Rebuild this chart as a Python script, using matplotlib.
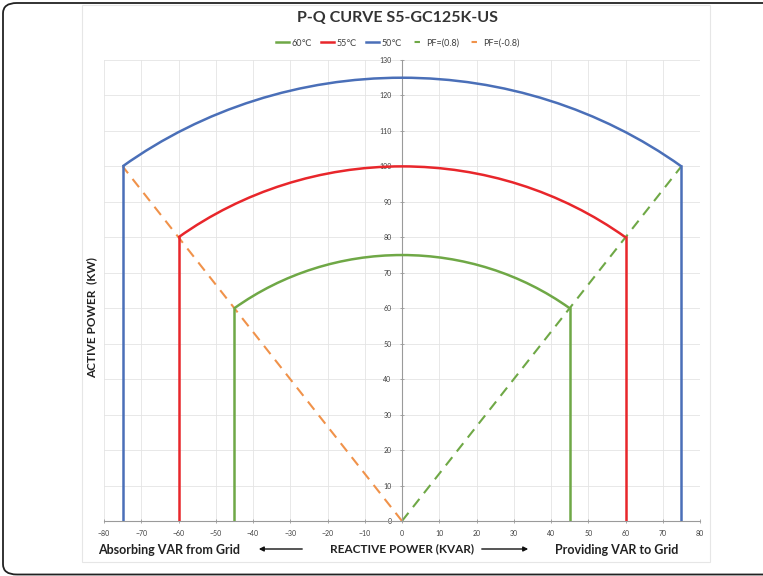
import numpy as np
import matplotlib
matplotlib.use("Agg")
import matplotlib.pyplot as plt
from matplotlib.patches import Arc, FancyBboxPatch, Rectangle, FancyArrowPatch
from matplotlib.lines import Line2D

# ---- data ----
ratings = ['60℃', '55℃', '50℃']
apparent_kva = [75, 100, 125]      # arc radius (kVA)
q_limit = [45, 60, 75]             # reactive power limit (kVAR)
p_at_limit = [60, 80, 100]         # active power at the limit (kW)
rating_colors = ['#6FA846', '#E8262B', '#4A6FB8']

pf_labels = ['PF=(0.8)', 'PF=(-0.8)']
pf_q_end = [75, -75]
pf_p_end = [100, 100]
pf_colors = ['#6FA846', '#F0924A']

x_ticks = list(range(-80, 81, 10))
y_ticks = list(range(0, 131, 10))

plt.rcParams['font.family'] = ['Lato', 'DejaVu Sans']

fig = plt.figure(figsize=(7.63, 5.76), dpi=100)

# outer rounded border
fig.patches.append(FancyBboxPatch((3 / 763, 1.5 / 576), 1.05, 1 - 4.5 / 576,
                                  boxstyle="round,pad=0,rounding_size=0.018",
                                  transform=fig.transFigure, fill=False,
                                  edgecolor='#222222', linewidth=1.3, zorder=0))
# chart area frame
fig.patches.append(Rectangle((82 / 763, 1 - 562 / 576), (710 - 82) / 763, (562 - 5) / 576,
                             transform=fig.transFigure, fill=False,
                             edgecolor='#E6E6E6', linewidth=0.8, zorder=0))

ax = fig.add_axes([104 / 763, 1 - 521 / 576, (700 - 104) / 763, (521 - 60) / 576])
ax.set_xlim(-80, 80)
ax.set_ylim(0, 130)

ax.set_xticks(x_ticks)
ax.set_yticks(y_ticks)
ax.grid(True, color='#E4E4E4', linewidth=0.6)
ax.set_axisbelow(True)

for sp in ['top', 'right']:
    ax.spines[sp].set_visible(False)
ax.spines['left'].set_position(('data', 0))
ax.spines['left'].set_color('#9A9A9A')
ax.spines['bottom'].set_color('#9A9A9A')
ax.spines['left'].set_linewidth(0.8)
ax.spines['bottom'].set_linewidth(0.8)
ax.tick_params(axis='both', labelsize=5, colors='#9A9A9A', labelcolor='#404040', length=3, width=0.6)
ax.tick_params(axis='y', direction='inout', pad=6)
ax.tick_params(axis='x', direction='inout', pad=5)

handles = []
for lab, S, q, p, c in zip(ratings, apparent_kva, q_limit, p_at_limit, rating_colors):
    th1 = np.degrees(np.arctan2(p, q))
    th2 = np.degrees(np.arctan2(p, -q))
    ax.add_patch(Arc((0, 0), 2 * S, 2 * S, theta1=th1, theta2=th2,
                     color=c, linewidth=1.8, zorder=3))
    h, = ax.plot([q, q], [0, p], color=c, linewidth=1.8, zorder=3, label=lab)
    ax.plot([-q, -q], [0, p], color=c, linewidth=1.8, zorder=3)
    handles.append(h)

for lab, q, p, c in zip(pf_labels, pf_q_end, pf_p_end, pf_colors):
    ax.plot([0, q], [0, p], color=c, linewidth=1.5, linestyle=(0, (5, 3.5)),
            zorder=2, label=lab)
    handles.append(Line2D([], [], color=c, linewidth=1.5,
                          linestyle=(10.9, (2.6, 10.0)), label=lab))

fig.legend(handles=handles, loc='center', bbox_to_anchor=(398 / 763, 1 - 43 / 576),
           ncol=5, frameon=False, fontsize=6.5, handlelength=1.4, columnspacing=1.0,
           handletextpad=0.3, labelcolor='#404040')

fig.text(398 / 763, 1 - 18 / 576, 'P-Q CURVE S5-GC125K-US', ha='center', va='center',
         fontsize=11.5, fontweight='bold', color='#333333')

fig.text(92 / 763, 1 - 318 / 576, 'ACTIVE POWER  (KW)', rotation=90, ha='center', va='center',
         fontsize=8.5, fontweight='bold', color='#222222')
fig.text(402 / 763, 1 - 549 / 576, 'REACTIVE POWER (KVAR)', ha='center', va='center',
         fontsize=8.5, fontweight='bold', color='#222222')
fig.text(98 / 763, 1 - 550 / 576, 'Absorbing VAR from Grid', ha='left', va='center',
         fontsize=9, fontweight='bold', color='#222222')
fig.text(678 / 763, 1 - 550 / 576, 'Providing VAR to Grid', ha='right', va='center',
         fontsize=9, fontweight='bold', color='#222222')

fig.add_artist(FancyArrowPatch((305 / 763, 1 - 549 / 576), (256 / 763, 1 - 549 / 576),
               transform=fig.transFigure, arrowstyle='-|>', mutation_scale=7,
               color='#111111', linewidth=1.0))
fig.add_artist(FancyArrowPatch((479 / 763, 1 - 549 / 576), (531 / 763, 1 - 549 / 576),
               transform=fig.transFigure, arrowstyle='-|>', mutation_scale=7,
               color='#111111', linewidth=1.0))

fig.savefig('out.png', dpi=100)
